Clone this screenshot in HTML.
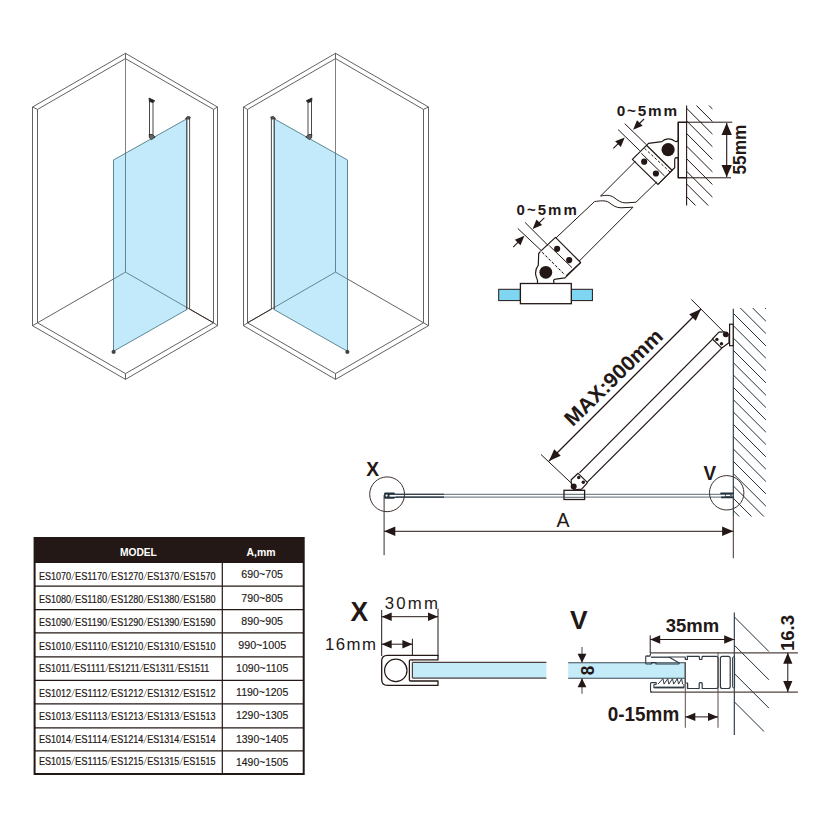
<!DOCTYPE html>
<html><head><meta charset="utf-8"><style>
html,body{margin:0;padding:0;background:#fff;}
svg{display:block;}
text{font-family:"Liberation Sans",sans-serif;}
</style></head><body>
<svg width="830" height="830" viewBox="0 0 830 830">
<rect width="830" height="830" fill="#fff"/>
<polygon points="32.50,325.70 32.50,107.00 125.50,53.30 217.50,107.00 217.50,325.70 125.50,379.40" fill="none" stroke="#505050" stroke-width="0.9" stroke-linejoin="round" />
<polygon points="37.50,322.79 37.50,109.41 125.50,58.60 213.50,109.41 213.50,322.79 125.50,373.60" fill="none" stroke="#505050" stroke-width="0.9" stroke-linejoin="round" />
<line x1="32.50" y1="107.00" x2="37.50" y2="109.41" stroke="#505050" stroke-width="0.9" />
<line x1="217.50" y1="107.00" x2="213.50" y2="109.41" stroke="#505050" stroke-width="0.9" />
<line x1="32.50" y1="325.70" x2="37.50" y2="322.79" stroke="#505050" stroke-width="0.9" />
<line x1="217.50" y1="325.70" x2="213.50" y2="322.79" stroke="#505050" stroke-width="0.9" />
<line x1="125.50" y1="53.30" x2="125.50" y2="58.60" stroke="#505050" stroke-width="0.9" />
<line x1="125.50" y1="379.40" x2="125.50" y2="373.60" stroke="#505050" stroke-width="0.9" />
<line x1="125.50" y1="58.60" x2="125.50" y2="272.10" stroke="#606060" stroke-width="0.8" />
<line x1="37.50" y1="322.79" x2="125.50" y2="272.10" stroke="#505050" stroke-width="0.9" />
<line x1="125.50" y1="272.10" x2="213.50" y2="322.79" stroke="#505050" stroke-width="0.9" />
<polygon points="113.50,160.00 186.80,118.80 186.80,309.60 113.50,351.30" fill="#c3eafa" stroke="#4e7a87" stroke-width="0.9" stroke-linejoin="round" />
<line x1="125.50" y1="153.07" x2="125.50" y2="272.10" stroke="#4d6b75" stroke-width="0.8" />
<line x1="113.50" y1="279.03" x2="125.50" y2="272.10" stroke="#4d6b75" stroke-width="0.8" />
<line x1="125.50" y1="272.10" x2="186.80" y2="307.49" stroke="#4d6b75" stroke-width="0.8" />
<line x1="189.60" y1="117.60" x2="189.60" y2="309.11" stroke="#3a3a3a" stroke-width="0.9" />
<line x1="186.80" y1="117.60" x2="186.80" y2="309.60" stroke="#3a3a3a" stroke-width="0.9" />
<polygon points="185.40,118.50 187.60,116.20 190.40,117.00 189.40,119.30" fill="#555" stroke="#222" stroke-width="0.6" stroke-linejoin="round" />
<line x1="189.60" y1="309.11" x2="213.50" y2="322.79" stroke="#3a2a24" stroke-width="1.0" />
<line x1="149.50" y1="100.80" x2="149.50" y2="136.30" stroke="#333" stroke-width="0.9" />
<line x1="153.00" y1="101.80" x2="153.00" y2="135.30" stroke="#333" stroke-width="0.9" />
<polygon points="149.00,98.00 154.80,100.80 152.90,102.50 149.40,101.50" fill="#222" stroke="#222" stroke-width="0.8" stroke-linejoin="round" />
<polygon points="149.20,134.30 152.50,134.60 155.20,137.00 151.50,139.60 149.40,137.80" fill="#666" stroke="#222" stroke-width="0.8" stroke-linejoin="round" />
<circle cx="113.60" cy="351.90" r="1.70" fill="#444" stroke="#222" stroke-width="0.6"/>
<polygon points="428.50,325.70 428.50,107.00 335.50,53.30 243.50,107.00 243.50,325.70 335.50,379.40" fill="none" stroke="#505050" stroke-width="0.9" stroke-linejoin="round" />
<polygon points="423.50,322.79 423.50,109.41 335.50,58.60 247.50,109.41 247.50,322.79 335.50,373.60" fill="none" stroke="#505050" stroke-width="0.9" stroke-linejoin="round" />
<line x1="428.50" y1="107.00" x2="423.50" y2="109.41" stroke="#505050" stroke-width="0.9" />
<line x1="243.50" y1="107.00" x2="247.50" y2="109.41" stroke="#505050" stroke-width="0.9" />
<line x1="428.50" y1="325.70" x2="423.50" y2="322.79" stroke="#505050" stroke-width="0.9" />
<line x1="243.50" y1="325.70" x2="247.50" y2="322.79" stroke="#505050" stroke-width="0.9" />
<line x1="335.50" y1="53.30" x2="335.50" y2="58.60" stroke="#505050" stroke-width="0.9" />
<line x1="335.50" y1="379.40" x2="335.50" y2="373.60" stroke="#505050" stroke-width="0.9" />
<line x1="335.50" y1="58.60" x2="335.50" y2="272.10" stroke="#606060" stroke-width="0.8" />
<line x1="423.50" y1="322.79" x2="335.50" y2="272.10" stroke="#505050" stroke-width="0.9" />
<line x1="335.50" y1="272.10" x2="247.50" y2="322.79" stroke="#505050" stroke-width="0.9" />
<polygon points="347.50,160.00 274.20,118.80 274.20,309.60 347.50,351.30" fill="#c3eafa" stroke="#4e7a87" stroke-width="0.9" stroke-linejoin="round" />
<line x1="335.50" y1="153.07" x2="335.50" y2="272.10" stroke="#4d6b75" stroke-width="0.8" />
<line x1="347.50" y1="279.03" x2="335.50" y2="272.10" stroke="#4d6b75" stroke-width="0.8" />
<line x1="335.50" y1="272.10" x2="274.20" y2="307.49" stroke="#4d6b75" stroke-width="0.8" />
<line x1="271.40" y1="117.60" x2="271.40" y2="309.11" stroke="#3a3a3a" stroke-width="0.9" />
<line x1="274.20" y1="117.60" x2="274.20" y2="309.60" stroke="#3a3a3a" stroke-width="0.9" />
<polygon points="275.60,118.50 273.40,116.20 270.60,117.00 271.60,119.30" fill="#555" stroke="#222" stroke-width="0.6" stroke-linejoin="round" />
<line x1="271.40" y1="309.11" x2="247.50" y2="322.79" stroke="#3a2a24" stroke-width="1.0" />
<line x1="311.50" y1="100.80" x2="311.50" y2="136.30" stroke="#333" stroke-width="0.9" />
<line x1="308.00" y1="101.80" x2="308.00" y2="135.30" stroke="#333" stroke-width="0.9" />
<polygon points="312.00,98.00 306.20,100.80 308.10,102.50 311.60,101.50" fill="#222" stroke="#222" stroke-width="0.8" stroke-linejoin="round" />
<polygon points="311.80,134.30 308.50,134.60 305.80,137.00 309.50,139.60 311.60,137.80" fill="#666" stroke="#222" stroke-width="0.8" stroke-linejoin="round" />
<circle cx="347.40" cy="351.90" r="1.70" fill="#444" stroke="#222" stroke-width="0.6"/>
<clipPath id="hc1"><rect x="686.6" y="105.6" width="25.8" height="100"/></clipPath>
<g clip-path="url(#hc1)">
<line x1="686.60" y1="70.50" x2="726.60" y2="110.50" stroke="#231815" stroke-width="1.0" />
<line x1="686.60" y1="83.10" x2="726.60" y2="123.10" stroke="#231815" stroke-width="1.0" />
<line x1="686.60" y1="95.70" x2="726.60" y2="135.70" stroke="#231815" stroke-width="1.0" />
<line x1="686.60" y1="108.30" x2="726.60" y2="148.30" stroke="#231815" stroke-width="1.0" />
<line x1="686.60" y1="120.90" x2="726.60" y2="160.90" stroke="#231815" stroke-width="1.0" />
<line x1="686.60" y1="133.50" x2="726.60" y2="173.50" stroke="#231815" stroke-width="1.0" />
<line x1="686.60" y1="146.10" x2="726.60" y2="186.10" stroke="#231815" stroke-width="1.0" />
<line x1="686.60" y1="158.70" x2="726.60" y2="198.70" stroke="#231815" stroke-width="1.0" />
<line x1="686.60" y1="171.30" x2="726.60" y2="211.30" stroke="#231815" stroke-width="1.0" />
<line x1="686.60" y1="183.90" x2="726.60" y2="223.90" stroke="#231815" stroke-width="1.0" />
<line x1="686.60" y1="196.50" x2="726.60" y2="236.50" stroke="#231815" stroke-width="1.0" />
<line x1="686.60" y1="209.10" x2="726.60" y2="249.10" stroke="#231815" stroke-width="1.0" />
<line x1="686.60" y1="221.70" x2="726.60" y2="261.70" stroke="#231815" stroke-width="1.0" />
</g>
<polyline points="686.60,122.20 678.20,122.20 678.20,177.80 686.60,177.80" fill="#fff" stroke="#231815" stroke-width="1.6" stroke-linejoin="round" />
<line x1="686.60" y1="105.60" x2="686.60" y2="205.60" stroke="#231815" stroke-width="1.1" />
<line x1="686.60" y1="122.20" x2="732.30" y2="122.20" stroke="#231815" stroke-width="1.0" />
<line x1="686.60" y1="177.80" x2="731.00" y2="177.80" stroke="#231815" stroke-width="1.0" />
<line x1="726.70" y1="123.00" x2="726.70" y2="177.00" stroke="#231815" stroke-width="1.1" />
<polygon points="726.70,123.00 731.90,135.00 721.50,135.00" fill="#231815" stroke="none" stroke-width="1.0" stroke-linejoin="round" />
<polygon points="726.70,177.00 721.50,165.00 731.90,165.00" fill="#231815" stroke="none" stroke-width="1.0" stroke-linejoin="round" />
<text x="746.2" y="149.6" font-size="17.5" font-weight="bold" fill="#231815" text-anchor="middle" textLength="49.7" lengthAdjust="spacingAndGlyphs" transform="rotate(-90 746.2 149.6)" >55mm</text>
<path d="M646.5,145.3 L648.5,143.3 L661.8,141.7 C664,139.3 667.5,138.6 670.5,139.1 C673.5,139.7 675,141.9 676.6,141.6 L678.2,140.4 L678.2,157.8 L675.6,157.6 C674.9,158.2 674.7,159.2 674.7,160.2 L674.7,167.8 L672,170.3 L657.9,184.4" fill="#fff" stroke="#231815" stroke-width="1.2" stroke-linejoin="round"/>
<polygon points="632.40,159.40 646.50,145.30 672.00,170.30 657.90,184.40" fill="#fff" stroke="#231815" stroke-width="1.2" stroke-linejoin="round" />
<line x1="641.40" y1="153.30" x2="664.60" y2="176.00" stroke="#231815" stroke-width="1.0" />
<line x1="644.60" y1="148.40" x2="670.00" y2="172.00" stroke="#231815" stroke-width="1.0" stroke-dasharray="2.6,2"/>
<circle cx="668.10" cy="149.60" r="6.60" fill="#231815" stroke="none" stroke-width="1.0"/>
<circle cx="644.20" cy="161.70" r="3.10" fill="#231815" stroke="none" stroke-width="1.0"/>
<circle cx="655.90" cy="173.50" r="3.10" fill="#231815" stroke="none" stroke-width="1.0"/>
<line x1="635.40" y1="161.20" x2="600.50" y2="196.10" stroke="#231815" stroke-width="1.0" />
<line x1="657.10" y1="181.70" x2="636.00" y2="202.20" stroke="#231815" stroke-width="1.0" />
<path d="M600.5,196.1 C606,195 610,194.8 614,197.5 C618,200.5 621,203 626,202.9 L636,202.2" fill="none" stroke="#231815" stroke-width="1.0"/>
<line x1="594.50" y1="201.60" x2="556.10" y2="237.80" stroke="#231815" stroke-width="1.0" />
<line x1="633.00" y1="207.20" x2="579.30" y2="261.00" stroke="#231815" stroke-width="1.0" />
<path d="M594.5,201.6 C600,200.8 605,200 609,202.5 C613,205.5 616,207.8 621,207.8 L633,207.2" fill="none" stroke="#231815" stroke-width="1.0"/>
<path d="M540.7,251.1 L538.7,253.5 L538.3,265.2 C536.2,268 535.4,271 535.6,274 C535.9,277 537.2,279 537.5,280.5 L537.5,283.5 M554,283.5 L553.6,280.6 C553.8,279.6 554.6,279.2 555.6,279.1 L565,277.8 L580.6,262.5" fill="none" stroke="#231815" stroke-width="1.2" stroke-linejoin="round"/>
<polygon points="540.70,251.10 555.50,237.40 580.60,262.50 565.80,276.20" fill="#fff" stroke="#231815" stroke-width="1.2" stroke-linejoin="round" stroke-dasharray="none"/>
<line x1="540.70" y1="251.10" x2="565.80" y2="276.20" stroke="#fff" stroke-width="1.6" />
<line x1="542.20" y1="252.30" x2="564.60" y2="274.60" stroke="#231815" stroke-width="1.0" stroke-dasharray="2.6,2"/>
<line x1="549.30" y1="245.70" x2="572.00" y2="267.60" stroke="#231815" stroke-width="1.0" />
<circle cx="545.80" cy="272.30" r="6.40" fill="#231815" stroke="none" stroke-width="1.0"/>
<circle cx="557.10" cy="248.80" r="3.10" fill="#231815" stroke="none" stroke-width="1.0"/>
<circle cx="569.20" cy="260.10" r="3.10" fill="#231815" stroke="none" stroke-width="1.0"/>
<rect x="498.7" y="289.3" width="21.7" height="11.3" fill="#7fd6f3" stroke="#231815" stroke-width="1.0"/>
<rect x="571.3" y="289.3" width="21.1" height="11.3" fill="#7fd6f3" stroke="#231815" stroke-width="1.0"/>
<rect x="520.4" y="283.5" width="50.9" height="20.2" fill="#fff" stroke="#231815" stroke-width="1.3"/>
<line x1="618.10" y1="129.60" x2="639.80" y2="150.70" stroke="#231815" stroke-width="1.0" />
<line x1="624.70" y1="123.60" x2="646.40" y2="144.70" stroke="#231815" stroke-width="1.0" />
<line x1="613.30" y1="148.30" x2="622.00" y2="140.00" stroke="#231815" stroke-width="1.1" />
<polygon points="624.70,137.40 620.81,146.95 615.15,141.29" fill="#231815" stroke="none" stroke-width="1.0" stroke-linejoin="round" />
<line x1="644.00" y1="119.00" x2="635.50" y2="127.30" stroke="#231815" stroke-width="1.1" />
<polygon points="633.10,129.70 636.99,120.15 642.65,125.81" fill="#231815" stroke="none" stroke-width="1.0" stroke-linejoin="round" />
<text x="616.8" y="116.4" font-size="15.3" font-weight="bold" fill="#231815" text-anchor="start" textLength="60.2" lengthAdjust="spacing" >0~5mm</text>
<line x1="517.80" y1="228.50" x2="541.70" y2="251.00" stroke="#231815" stroke-width="1.0" />
<line x1="525.10" y1="222.50" x2="548.30" y2="245.70" stroke="#231815" stroke-width="1.0" />
<line x1="513.20" y1="247.10" x2="522.00" y2="238.30" stroke="#231815" stroke-width="1.1" />
<polygon points="524.40,235.80 520.51,245.35 514.85,239.69" fill="#231815" stroke="none" stroke-width="1.0" stroke-linejoin="round" />
<line x1="544.30" y1="217.90" x2="535.00" y2="226.80" stroke="#231815" stroke-width="1.1" />
<polygon points="532.60,229.00 536.49,219.45 542.15,225.11" fill="#231815" stroke="none" stroke-width="1.0" stroke-linejoin="round" />
<text x="516.5" y="215.0" font-size="15.0" font-weight="bold" fill="#231815" text-anchor="start" textLength="60.3" lengthAdjust="spacing" >0~5mm</text>
<clipPath id="hc2"><rect x="733.2" y="308" width="32.7" height="208.6"/></clipPath>
<g clip-path="url(#hc2)">
<line x1="733.20" y1="263.88" x2="773.20" y2="303.88" stroke="#22313c" stroke-width="1.0" />
<line x1="733.20" y1="276.21" x2="773.20" y2="316.21" stroke="#22313c" stroke-width="1.0" />
<line x1="733.20" y1="288.54" x2="773.20" y2="328.54" stroke="#22313c" stroke-width="1.0" />
<line x1="733.20" y1="300.87" x2="773.20" y2="340.87" stroke="#22313c" stroke-width="1.0" />
<line x1="733.20" y1="313.20" x2="773.20" y2="353.20" stroke="#22313c" stroke-width="1.0" />
<line x1="733.20" y1="325.53" x2="773.20" y2="365.53" stroke="#22313c" stroke-width="1.0" />
<line x1="733.20" y1="337.86" x2="773.20" y2="377.86" stroke="#22313c" stroke-width="1.0" />
<line x1="733.20" y1="350.19" x2="773.20" y2="390.19" stroke="#22313c" stroke-width="1.0" />
<line x1="733.20" y1="362.52" x2="773.20" y2="402.52" stroke="#22313c" stroke-width="1.0" />
<line x1="733.20" y1="374.85" x2="773.20" y2="414.85" stroke="#22313c" stroke-width="1.0" />
<line x1="733.20" y1="387.18" x2="773.20" y2="427.18" stroke="#22313c" stroke-width="1.0" />
<line x1="733.20" y1="399.51" x2="773.20" y2="439.51" stroke="#22313c" stroke-width="1.0" />
<line x1="733.20" y1="411.84" x2="773.20" y2="451.84" stroke="#22313c" stroke-width="1.0" />
<line x1="733.20" y1="424.17" x2="773.20" y2="464.17" stroke="#22313c" stroke-width="1.0" />
<line x1="733.20" y1="436.50" x2="773.20" y2="476.50" stroke="#22313c" stroke-width="1.0" />
<line x1="733.20" y1="448.83" x2="773.20" y2="488.83" stroke="#22313c" stroke-width="1.0" />
<line x1="733.20" y1="461.16" x2="773.20" y2="501.16" stroke="#22313c" stroke-width="1.0" />
<line x1="733.20" y1="473.49" x2="773.20" y2="513.49" stroke="#22313c" stroke-width="1.0" />
<line x1="733.20" y1="485.82" x2="773.20" y2="525.82" stroke="#22313c" stroke-width="1.0" />
<line x1="733.20" y1="498.15" x2="773.20" y2="538.15" stroke="#22313c" stroke-width="1.0" />
<line x1="733.20" y1="510.48" x2="773.20" y2="550.48" stroke="#22313c" stroke-width="1.0" />
<line x1="733.20" y1="522.81" x2="773.20" y2="562.81" stroke="#22313c" stroke-width="1.0" />
<line x1="733.20" y1="535.14" x2="773.20" y2="575.14" stroke="#22313c" stroke-width="1.0" />
<line x1="733.20" y1="547.47" x2="773.20" y2="587.47" stroke="#22313c" stroke-width="1.0" />
</g>
<line x1="733.30" y1="308.70" x2="733.30" y2="516.00" stroke="#22313c" stroke-width="1.1" />
<line x1="733.30" y1="516.00" x2="733.30" y2="558.20" stroke="#3d2f2c" stroke-width="1.0" />
<line x1="384.50" y1="494.30" x2="725.20" y2="494.30" stroke="#4a5a66" stroke-width="0.9" />
<line x1="384.50" y1="497.10" x2="725.20" y2="497.10" stroke="#4a5a66" stroke-width="0.9" />
<line x1="393.90" y1="494.30" x2="444.00" y2="494.30" stroke="#1f2d3a" stroke-width="1.1" />
<line x1="393.90" y1="497.10" x2="444.00" y2="497.10" stroke="#1f2d3a" stroke-width="1.1" />
<rect x="384.1" y="492.5" width="10.8" height="6.3" rx="1.2" fill="#22313c"/>
<rect x="389.5" y="494.9" width="6" height="1.8" fill="#fff"/>
<circle cx="386.60" cy="495.60" r="1.10" fill="#fff" stroke="none" stroke-width="1.0"/>
<line x1="721.00" y1="493.40" x2="733.20" y2="493.40" stroke="#22313c" stroke-width="1.7" stroke-linecap="round"/>
<line x1="721.80" y1="497.40" x2="733.20" y2="497.40" stroke="#22313c" stroke-width="1.7" stroke-linecap="round"/>
<rect x="725.6" y="494.2" width="5" height="2.4" fill="none" stroke="#22313c" stroke-width="0.7"/>
<line x1="731.80" y1="493.80" x2="731.80" y2="497.00" stroke="#22313c" stroke-width="0.9" />
<circle cx="387.10" cy="494.30" r="17.40" fill="none" stroke="#3d2f2c" stroke-width="1.0"/>
<circle cx="726.70" cy="492.80" r="17.20" fill="none" stroke="#3d2f2c" stroke-width="1.0"/>
<text x="366.2" y="475.7" font-size="19.5" font-weight="bold" fill="#231815" text-anchor="start" textLength="12.8" lengthAdjust="spacingAndGlyphs" >X</text>
<text x="703.6" y="479.9" font-size="19.5" font-weight="bold" fill="#231815" text-anchor="start" textLength="12.6" lengthAdjust="spacingAndGlyphs" >V</text>
<line x1="384.10" y1="495.00" x2="384.10" y2="555.20" stroke="#3d2f2c" stroke-width="1.0" />
<line x1="384.10" y1="531.30" x2="733.30" y2="531.30" stroke="#231815" stroke-width="1.0" />
<polygon points="384.10,531.30 395.30,526.50 395.30,536.10" fill="#231815" stroke="none" stroke-width="1.0" stroke-linejoin="round" />
<polygon points="733.30,531.30 722.10,536.10 722.10,526.50" fill="#231815" stroke="none" stroke-width="1.0" stroke-linejoin="round" />
<text x="562.9" y="526.6" font-size="19.5" font-weight="normal" fill="#231815" text-anchor="middle" >A</text>
<line x1="579.50" y1="472.90" x2="712.40" y2="339.40" stroke="#231815" stroke-width="1.3" />
<line x1="587.50" y1="481.90" x2="721.80" y2="348.10" stroke="#231815" stroke-width="1.3" />
<polygon points="571.20,479.80 578.10,473.30 587.50,482.70 581.70,489.20 573.70,489.90 571.20,483.00" fill="#fff" stroke="#231815" stroke-width="1.2" stroke-linejoin="round" />
<circle cx="578.70" cy="477.50" r="1.70" fill="#231815" stroke="none" stroke-width="1.0"/>
<circle cx="583.30" cy="482.20" r="1.70" fill="#231815" stroke="none" stroke-width="1.0"/>
<circle cx="573.70" cy="486.60" r="3.00" fill="#231815" stroke="none" stroke-width="1.0"/>
<rect x="564" y="490.3" width="20.6" height="9.2" fill="#fff" stroke="#231815" stroke-width="1.3"/>
<line x1="564.50" y1="494.30" x2="584.20" y2="494.30" stroke="#3b4a55" stroke-width="0.9" />
<line x1="564.50" y1="497.30" x2="584.20" y2="497.30" stroke="#3b4a55" stroke-width="0.9" />
<rect x="729.6" y="324.2" width="3.6" height="21.5" fill="#fff" stroke="#231815" stroke-width="1.2"/>
<polygon points="712.40,339.00 718.90,332.20 724.00,331.80 729.00,335.00 729.00,342.70 721.80,348.10" fill="#fff" stroke="#231815" stroke-width="1.2" stroke-linejoin="round" />
<circle cx="725.80" cy="334.30" r="2.90" fill="#231815" stroke="none" stroke-width="1.0"/>
<circle cx="716.90" cy="339.40" r="1.70" fill="#231815" stroke="none" stroke-width="1.0"/>
<circle cx="721.50" cy="343.70" r="1.70" fill="#231815" stroke="none" stroke-width="1.0"/>
<line x1="541.00" y1="454.50" x2="571.60" y2="483.40" stroke="#231815" stroke-width="1.0" />
<line x1="691.30" y1="299.40" x2="723.60" y2="331.80" stroke="#231815" stroke-width="1.0" />
<line x1="549.00" y1="461.00" x2="701.00" y2="309.00" stroke="#231815" stroke-width="1.2" />
<polygon points="549.00,461.00 554.23,449.26 560.74,455.77" fill="#231815" stroke="none" stroke-width="1.0" stroke-linejoin="round" />
<polygon points="701.00,309.00 695.77,320.74 689.26,314.23" fill="#231815" stroke="none" stroke-width="1.0" stroke-linejoin="round" />
<text x="0" y="0" font-size="21" font-weight="bold" fill="#231815" text-anchor="middle" textLength="128" lengthAdjust="spacingAndGlyphs" transform="translate(618.5,382.5) rotate(-44.5)">MAX:900mm</text>
<rect x="34.6" y="538.0" width="269.1" height="236.0" fill="#fff" stroke="#231815" stroke-width="2"/>
<rect x="34.6" y="538.0" width="269.1" height="25.0" fill="#231815"/>
<line x1="222.30" y1="562.00" x2="222.30" y2="774.00" stroke="#231815" stroke-width="1.2" />
<line x1="34.60" y1="586.20" x2="303.70" y2="586.20" stroke="#231815" stroke-width="1.2" />
<line x1="34.60" y1="609.60" x2="303.70" y2="609.60" stroke="#231815" stroke-width="1.2" />
<line x1="34.60" y1="632.90" x2="303.70" y2="632.90" stroke="#231815" stroke-width="1.2" />
<line x1="34.60" y1="656.80" x2="303.70" y2="656.80" stroke="#231815" stroke-width="1.2" />
<line x1="34.60" y1="680.30" x2="303.70" y2="680.30" stroke="#231815" stroke-width="1.2" />
<line x1="34.60" y1="703.90" x2="303.70" y2="703.90" stroke="#231815" stroke-width="1.2" />
<line x1="34.60" y1="727.80" x2="303.70" y2="727.80" stroke="#231815" stroke-width="1.2" />
<line x1="34.60" y1="750.90" x2="303.70" y2="750.90" stroke="#231815" stroke-width="1.2" />
<text x="138.4" y="556.2" font-size="11" font-weight="bold" fill="#fff" text-anchor="middle" textLength="37" lengthAdjust="spacingAndGlyphs" >MODEL</text>
<text x="261.0" y="556.2" font-size="11" font-weight="bold" fill="#fff" text-anchor="middle" textLength="29" lengthAdjust="spacingAndGlyphs" >A,mm</text>
<text x="38.9" y="579.9" font-size="10.6" font-weight="normal" fill="#231815" text-anchor="start" textLength="32.2" lengthAdjust="spacingAndGlyphs" stroke="#231815" stroke-width="0.2">ES1070</text>
<line x1="71.40" y1="580.20" x2="74.80" y2="571.70" stroke="#6a6a6a" stroke-width="0.7" />
<text x="75.0" y="579.9" font-size="10.6" font-weight="normal" fill="#231815" text-anchor="start" textLength="32.2" lengthAdjust="spacingAndGlyphs" stroke="#231815" stroke-width="0.2">ES1170</text>
<line x1="107.50" y1="580.20" x2="110.90" y2="571.70" stroke="#6a6a6a" stroke-width="0.7" />
<text x="111.1" y="579.9" font-size="10.6" font-weight="normal" fill="#231815" text-anchor="start" textLength="32.2" lengthAdjust="spacingAndGlyphs" stroke="#231815" stroke-width="0.2">ES1270</text>
<line x1="143.60" y1="580.20" x2="147.00" y2="571.70" stroke="#6a6a6a" stroke-width="0.7" />
<text x="147.2" y="579.9" font-size="10.6" font-weight="normal" fill="#231815" text-anchor="start" textLength="32.2" lengthAdjust="spacingAndGlyphs" stroke="#231815" stroke-width="0.2">ES1370</text>
<line x1="179.70" y1="580.20" x2="183.10" y2="571.70" stroke="#6a6a6a" stroke-width="0.7" />
<text x="183.3" y="579.9" font-size="10.6" font-weight="normal" fill="#231815" text-anchor="start" textLength="32.2" lengthAdjust="spacingAndGlyphs" stroke="#231815" stroke-width="0.2">ES1570</text>
<text x="262.2" y="577.6" font-size="11.2" font-weight="normal" fill="#231815" text-anchor="middle" textLength="41.7" lengthAdjust="spacingAndGlyphs" stroke="#231815" stroke-width="0.15">690~705</text>
<text x="38.9" y="603.4" font-size="10.6" font-weight="normal" fill="#231815" text-anchor="start" textLength="32.2" lengthAdjust="spacingAndGlyphs" stroke="#231815" stroke-width="0.2">ES1080</text>
<line x1="71.40" y1="603.70" x2="74.80" y2="595.20" stroke="#6a6a6a" stroke-width="0.7" />
<text x="75.0" y="603.4" font-size="10.6" font-weight="normal" fill="#231815" text-anchor="start" textLength="32.2" lengthAdjust="spacingAndGlyphs" stroke="#231815" stroke-width="0.2">ES1180</text>
<line x1="107.50" y1="603.70" x2="110.90" y2="595.20" stroke="#6a6a6a" stroke-width="0.7" />
<text x="111.1" y="603.4" font-size="10.6" font-weight="normal" fill="#231815" text-anchor="start" textLength="32.2" lengthAdjust="spacingAndGlyphs" stroke="#231815" stroke-width="0.2">ES1280</text>
<line x1="143.60" y1="603.70" x2="147.00" y2="595.20" stroke="#6a6a6a" stroke-width="0.7" />
<text x="147.2" y="603.4" font-size="10.6" font-weight="normal" fill="#231815" text-anchor="start" textLength="32.2" lengthAdjust="spacingAndGlyphs" stroke="#231815" stroke-width="0.2">ES1380</text>
<line x1="179.70" y1="603.70" x2="183.10" y2="595.20" stroke="#6a6a6a" stroke-width="0.7" />
<text x="183.3" y="603.4" font-size="10.6" font-weight="normal" fill="#231815" text-anchor="start" textLength="32.2" lengthAdjust="spacingAndGlyphs" stroke="#231815" stroke-width="0.2">ES1580</text>
<text x="262.2" y="601.6" font-size="11.2" font-weight="normal" fill="#231815" text-anchor="middle" textLength="41.7" lengthAdjust="spacingAndGlyphs" stroke="#231815" stroke-width="0.15">790~805</text>
<text x="38.9" y="625.8" font-size="10.6" font-weight="normal" fill="#231815" text-anchor="start" textLength="32.2" lengthAdjust="spacingAndGlyphs" stroke="#231815" stroke-width="0.2">ES1090</text>
<line x1="71.40" y1="626.10" x2="74.80" y2="617.60" stroke="#6a6a6a" stroke-width="0.7" />
<text x="75.0" y="625.8" font-size="10.6" font-weight="normal" fill="#231815" text-anchor="start" textLength="32.2" lengthAdjust="spacingAndGlyphs" stroke="#231815" stroke-width="0.2">ES1190</text>
<line x1="107.50" y1="626.10" x2="110.90" y2="617.60" stroke="#6a6a6a" stroke-width="0.7" />
<text x="111.1" y="625.8" font-size="10.6" font-weight="normal" fill="#231815" text-anchor="start" textLength="32.2" lengthAdjust="spacingAndGlyphs" stroke="#231815" stroke-width="0.2">ES1290</text>
<line x1="143.60" y1="626.10" x2="147.00" y2="617.60" stroke="#6a6a6a" stroke-width="0.7" />
<text x="147.2" y="625.8" font-size="10.6" font-weight="normal" fill="#231815" text-anchor="start" textLength="32.2" lengthAdjust="spacingAndGlyphs" stroke="#231815" stroke-width="0.2">ES1390</text>
<line x1="179.70" y1="626.10" x2="183.10" y2="617.60" stroke="#6a6a6a" stroke-width="0.7" />
<text x="183.3" y="625.8" font-size="10.6" font-weight="normal" fill="#231815" text-anchor="start" textLength="32.2" lengthAdjust="spacingAndGlyphs" stroke="#231815" stroke-width="0.2">ES1590</text>
<text x="262.2" y="624.7" font-size="11.2" font-weight="normal" fill="#231815" text-anchor="middle" textLength="41.7" lengthAdjust="spacingAndGlyphs" stroke="#231815" stroke-width="0.15">890~905</text>
<text x="38.9" y="650.3" font-size="10.6" font-weight="normal" fill="#231815" text-anchor="start" textLength="32.2" lengthAdjust="spacingAndGlyphs" stroke="#231815" stroke-width="0.2">ES1010</text>
<line x1="71.40" y1="650.60" x2="74.80" y2="642.10" stroke="#6a6a6a" stroke-width="0.7" />
<text x="75.0" y="650.3" font-size="10.6" font-weight="normal" fill="#231815" text-anchor="start" textLength="32.2" lengthAdjust="spacingAndGlyphs" stroke="#231815" stroke-width="0.2">ES1110</text>
<line x1="107.50" y1="650.60" x2="110.90" y2="642.10" stroke="#6a6a6a" stroke-width="0.7" />
<text x="111.1" y="650.3" font-size="10.6" font-weight="normal" fill="#231815" text-anchor="start" textLength="32.2" lengthAdjust="spacingAndGlyphs" stroke="#231815" stroke-width="0.2">ES1210</text>
<line x1="143.60" y1="650.60" x2="147.00" y2="642.10" stroke="#6a6a6a" stroke-width="0.7" />
<text x="147.2" y="650.3" font-size="10.6" font-weight="normal" fill="#231815" text-anchor="start" textLength="32.2" lengthAdjust="spacingAndGlyphs" stroke="#231815" stroke-width="0.2">ES1310</text>
<line x1="179.70" y1="650.60" x2="183.10" y2="642.10" stroke="#6a6a6a" stroke-width="0.7" />
<text x="183.3" y="650.3" font-size="10.6" font-weight="normal" fill="#231815" text-anchor="start" textLength="32.2" lengthAdjust="spacingAndGlyphs" stroke="#231815" stroke-width="0.2">ES1510</text>
<text x="262.2" y="648.5" font-size="11.2" font-weight="normal" fill="#231815" text-anchor="middle" textLength="47.9" lengthAdjust="spacingAndGlyphs" stroke="#231815" stroke-width="0.15">990~1005</text>
<text x="38.9" y="671.7" font-size="10.6" font-weight="normal" fill="#231815" text-anchor="start" textLength="31.5" lengthAdjust="spacingAndGlyphs" stroke="#231815" stroke-width="0.2">ES1011</text>
<line x1="70.70" y1="672.00" x2="74.10" y2="663.50" stroke="#6a6a6a" stroke-width="0.7" />
<text x="73.65" y="671.7" font-size="10.6" font-weight="normal" fill="#231815" text-anchor="start" textLength="31.5" lengthAdjust="spacingAndGlyphs" stroke="#231815" stroke-width="0.2">ES1111</text>
<line x1="105.45" y1="672.00" x2="108.85" y2="663.50" stroke="#6a6a6a" stroke-width="0.7" />
<text x="108.4" y="671.7" font-size="10.6" font-weight="normal" fill="#231815" text-anchor="start" textLength="31.5" lengthAdjust="spacingAndGlyphs" stroke="#231815" stroke-width="0.2">ES1211</text>
<line x1="140.20" y1="672.00" x2="143.60" y2="663.50" stroke="#6a6a6a" stroke-width="0.7" />
<text x="143.15" y="671.7" font-size="10.6" font-weight="normal" fill="#231815" text-anchor="start" textLength="31.5" lengthAdjust="spacingAndGlyphs" stroke="#231815" stroke-width="0.2">ES1311</text>
<line x1="174.95" y1="672.00" x2="178.35" y2="663.50" stroke="#6a6a6a" stroke-width="0.7" />
<text x="177.9" y="671.7" font-size="10.6" font-weight="normal" fill="#231815" text-anchor="start" textLength="31.5" lengthAdjust="spacingAndGlyphs" stroke="#231815" stroke-width="0.2">ES1511</text>
<text x="262.2" y="671.7" font-size="11.2" font-weight="normal" fill="#231815" text-anchor="middle" textLength="52.3" lengthAdjust="spacingAndGlyphs" stroke="#231815" stroke-width="0.15">1090~1105</text>
<text x="38.9" y="697.0" font-size="10.6" font-weight="normal" fill="#231815" text-anchor="start" textLength="32.2" lengthAdjust="spacingAndGlyphs" stroke="#231815" stroke-width="0.2">ES1012</text>
<line x1="71.40" y1="697.30" x2="74.80" y2="688.80" stroke="#6a6a6a" stroke-width="0.7" />
<text x="75.0" y="697.0" font-size="10.6" font-weight="normal" fill="#231815" text-anchor="start" textLength="32.2" lengthAdjust="spacingAndGlyphs" stroke="#231815" stroke-width="0.2">ES1112</text>
<line x1="107.50" y1="697.30" x2="110.90" y2="688.80" stroke="#6a6a6a" stroke-width="0.7" />
<text x="111.1" y="697.0" font-size="10.6" font-weight="normal" fill="#231815" text-anchor="start" textLength="32.2" lengthAdjust="spacingAndGlyphs" stroke="#231815" stroke-width="0.2">ES1212</text>
<line x1="143.60" y1="697.30" x2="147.00" y2="688.80" stroke="#6a6a6a" stroke-width="0.7" />
<text x="147.2" y="697.0" font-size="10.6" font-weight="normal" fill="#231815" text-anchor="start" textLength="32.2" lengthAdjust="spacingAndGlyphs" stroke="#231815" stroke-width="0.2">ES1312</text>
<line x1="179.70" y1="697.30" x2="183.10" y2="688.80" stroke="#6a6a6a" stroke-width="0.7" />
<text x="183.3" y="697.0" font-size="10.6" font-weight="normal" fill="#231815" text-anchor="start" textLength="32.2" lengthAdjust="spacingAndGlyphs" stroke="#231815" stroke-width="0.2">ES1512</text>
<text x="262.2" y="695.5" font-size="11.2" font-weight="normal" fill="#231815" text-anchor="middle" textLength="52.3" lengthAdjust="spacingAndGlyphs" stroke="#231815" stroke-width="0.15">1190~1205</text>
<text x="38.9" y="719.7" font-size="10.6" font-weight="normal" fill="#231815" text-anchor="start" textLength="32.2" lengthAdjust="spacingAndGlyphs" stroke="#231815" stroke-width="0.2">ES1013</text>
<line x1="71.40" y1="720.00" x2="74.80" y2="711.50" stroke="#6a6a6a" stroke-width="0.7" />
<text x="75.0" y="719.7" font-size="10.6" font-weight="normal" fill="#231815" text-anchor="start" textLength="32.2" lengthAdjust="spacingAndGlyphs" stroke="#231815" stroke-width="0.2">ES1113</text>
<line x1="107.50" y1="720.00" x2="110.90" y2="711.50" stroke="#6a6a6a" stroke-width="0.7" />
<text x="111.1" y="719.7" font-size="10.6" font-weight="normal" fill="#231815" text-anchor="start" textLength="32.2" lengthAdjust="spacingAndGlyphs" stroke="#231815" stroke-width="0.2">ES1213</text>
<line x1="143.60" y1="720.00" x2="147.00" y2="711.50" stroke="#6a6a6a" stroke-width="0.7" />
<text x="147.2" y="719.7" font-size="10.6" font-weight="normal" fill="#231815" text-anchor="start" textLength="32.2" lengthAdjust="spacingAndGlyphs" stroke="#231815" stroke-width="0.2">ES1313</text>
<line x1="179.70" y1="720.00" x2="183.10" y2="711.50" stroke="#6a6a6a" stroke-width="0.7" />
<text x="183.3" y="719.7" font-size="10.6" font-weight="normal" fill="#231815" text-anchor="start" textLength="32.2" lengthAdjust="spacingAndGlyphs" stroke="#231815" stroke-width="0.2">ES1513</text>
<text x="262.2" y="718.7" font-size="11.2" font-weight="normal" fill="#231815" text-anchor="middle" textLength="52.3" lengthAdjust="spacingAndGlyphs" stroke="#231815" stroke-width="0.15">1290~1305</text>
<text x="38.9" y="743.2" font-size="10.6" font-weight="normal" fill="#231815" text-anchor="start" textLength="32.2" lengthAdjust="spacingAndGlyphs" stroke="#231815" stroke-width="0.2">ES1014</text>
<line x1="71.40" y1="743.50" x2="74.80" y2="735.00" stroke="#6a6a6a" stroke-width="0.7" />
<text x="75.0" y="743.2" font-size="10.6" font-weight="normal" fill="#231815" text-anchor="start" textLength="32.2" lengthAdjust="spacingAndGlyphs" stroke="#231815" stroke-width="0.2">ES1114</text>
<line x1="107.50" y1="743.50" x2="110.90" y2="735.00" stroke="#6a6a6a" stroke-width="0.7" />
<text x="111.1" y="743.2" font-size="10.6" font-weight="normal" fill="#231815" text-anchor="start" textLength="32.2" lengthAdjust="spacingAndGlyphs" stroke="#231815" stroke-width="0.2">ES1214</text>
<line x1="143.60" y1="743.50" x2="147.00" y2="735.00" stroke="#6a6a6a" stroke-width="0.7" />
<text x="147.2" y="743.2" font-size="10.6" font-weight="normal" fill="#231815" text-anchor="start" textLength="32.2" lengthAdjust="spacingAndGlyphs" stroke="#231815" stroke-width="0.2">ES1314</text>
<line x1="179.70" y1="743.50" x2="183.10" y2="735.00" stroke="#6a6a6a" stroke-width="0.7" />
<text x="183.3" y="743.2" font-size="10.6" font-weight="normal" fill="#231815" text-anchor="start" textLength="32.2" lengthAdjust="spacingAndGlyphs" stroke="#231815" stroke-width="0.2">ES1514</text>
<text x="262.2" y="743.2" font-size="11.2" font-weight="normal" fill="#231815" text-anchor="middle" textLength="52.3" lengthAdjust="spacingAndGlyphs" stroke="#231815" stroke-width="0.15">1390~1405</text>
<text x="38.9" y="764.9" font-size="10.6" font-weight="normal" fill="#231815" text-anchor="start" textLength="32.2" lengthAdjust="spacingAndGlyphs" stroke="#231815" stroke-width="0.2">ES1015</text>
<line x1="71.40" y1="765.20" x2="74.80" y2="756.70" stroke="#6a6a6a" stroke-width="0.7" />
<text x="75.0" y="764.9" font-size="10.6" font-weight="normal" fill="#231815" text-anchor="start" textLength="32.2" lengthAdjust="spacingAndGlyphs" stroke="#231815" stroke-width="0.2">ES1115</text>
<line x1="107.50" y1="765.20" x2="110.90" y2="756.70" stroke="#6a6a6a" stroke-width="0.7" />
<text x="111.1" y="764.9" font-size="10.6" font-weight="normal" fill="#231815" text-anchor="start" textLength="32.2" lengthAdjust="spacingAndGlyphs" stroke="#231815" stroke-width="0.2">ES1215</text>
<line x1="143.60" y1="765.20" x2="147.00" y2="756.70" stroke="#6a6a6a" stroke-width="0.7" />
<text x="147.2" y="764.9" font-size="10.6" font-weight="normal" fill="#231815" text-anchor="start" textLength="32.2" lengthAdjust="spacingAndGlyphs" stroke="#231815" stroke-width="0.2">ES1315</text>
<line x1="179.70" y1="765.20" x2="183.10" y2="756.70" stroke="#6a6a6a" stroke-width="0.7" />
<text x="183.3" y="764.9" font-size="10.6" font-weight="normal" fill="#231815" text-anchor="start" textLength="32.2" lengthAdjust="spacingAndGlyphs" stroke="#231815" stroke-width="0.2">ES1515</text>
<text x="262.2" y="765.6" font-size="11.2" font-weight="normal" fill="#231815" text-anchor="middle" textLength="52.3" lengthAdjust="spacingAndGlyphs" stroke="#231815" stroke-width="0.15">1490~1505</text>
<text x="350.6" y="620.6" font-size="28.5" font-weight="bold" fill="#231815" text-anchor="start" textLength="17.6" lengthAdjust="spacingAndGlyphs" >X</text>
<text x="384.7" y="608.9" font-size="16.8" font-weight="normal" fill="#231815" text-anchor="start" textLength="53.3" lengthAdjust="spacing" >30mm</text>
<text x="325.0" y="650.4" font-size="16.8" font-weight="normal" fill="#231815" text-anchor="start" textLength="51.0" lengthAdjust="spacing" >16mm</text>
<line x1="381.70" y1="610.00" x2="381.70" y2="656.00" stroke="#231815" stroke-width="1.0" />
<line x1="438.00" y1="608.60" x2="438.00" y2="656.00" stroke="#231815" stroke-width="1.0" />
<line x1="412.40" y1="638.70" x2="412.40" y2="660.50" stroke="#231815" stroke-width="1.0" />
<line x1="381.70" y1="616.70" x2="438.00" y2="616.70" stroke="#231815" stroke-width="1.0" />
<polygon points="381.70,616.70 391.70,612.50 391.70,620.90" fill="#231815" stroke="none" stroke-width="1.0" stroke-linejoin="round" />
<polygon points="438.00,616.70 428.00,620.90 428.00,612.50" fill="#231815" stroke="none" stroke-width="1.0" stroke-linejoin="round" />
<line x1="381.70" y1="644.20" x2="412.40" y2="644.20" stroke="#231815" stroke-width="1.0" />
<polygon points="381.70,644.20 391.70,640.00 391.70,648.40" fill="#231815" stroke="none" stroke-width="1.0" stroke-linejoin="round" />
<polygon points="412.40,644.20 402.40,648.40 402.40,640.00" fill="#231815" stroke="none" stroke-width="1.0" stroke-linejoin="round" />
<path d="M438,655.3 L387.5,655.3 Q381.7,655.3 381.7,661 L381.7,679.8 Q381.7,685.4 387.5,685.4 L438,685.4 L438,681.0 L410.5,681.0 Q409.4,681 409.4,680 L409.4,660.8 Q409.4,659.8 410.5,659.8 L438,659.8 Z" fill="#fff" stroke="#231815" stroke-width="1.3" stroke-linejoin="round"/>
<circle cx="395.80" cy="670.40" r="11.20" fill="none" stroke="#231815" stroke-width="1.2"/>
<rect x="412.4" y="662.4" width="134" height="15.7" fill="#c3ebf8"/>
<line x1="412.40" y1="662.40" x2="546.40" y2="662.40" stroke="#4a3f3c" stroke-width="1.2" />
<line x1="412.40" y1="678.10" x2="546.40" y2="678.10" stroke="#4a3f3c" stroke-width="1.2" />
<line x1="412.40" y1="662.40" x2="412.40" y2="678.10" stroke="#4a3f3c" stroke-width="1.2" />
<text x="570.0" y="629.2" font-size="26" font-weight="bold" fill="#231815" text-anchor="start" textLength="17.6" lengthAdjust="spacingAndGlyphs" >V</text>
<text x="665.8" y="632.3" font-size="18" font-weight="bold" fill="#231815" text-anchor="start" textLength="53.4" lengthAdjust="spacingAndGlyphs" >35mm</text>
<text x="607.8" y="721.0" font-size="19.5" font-weight="bold" fill="#231815" text-anchor="start" textLength="71.4" lengthAdjust="spacingAndGlyphs" >0-15mm</text>
<text x="0" y="0" font-size="18.5" font-weight="bold" fill="#231815" text-anchor="middle" textLength="36.2" lengthAdjust="spacingAndGlyphs" transform="translate(794.4,633.0) rotate(-90)">16.3</text>
<clipPath id="hc3"><rect x="734.3" y="605" width="36" height="126.5"/></clipPath>
<g clip-path="url(#hc3)">
<line x1="734.30" y1="616.90" x2="768.90" y2="651.50" stroke="#22313c" stroke-width="1.0" />
<line x1="734.30" y1="645.20" x2="768.90" y2="679.80" stroke="#22313c" stroke-width="1.0" />
<line x1="734.30" y1="673.50" x2="768.90" y2="708.10" stroke="#22313c" stroke-width="1.0" />
<line x1="734.30" y1="701.80" x2="768.90" y2="736.40" stroke="#22313c" stroke-width="1.0" />
</g>
<line x1="734.30" y1="612.60" x2="734.30" y2="735.00" stroke="#22313c" stroke-width="1.1" />
<rect x="568.2" y="662.7" width="117" height="15.6" fill="#c3ebf8"/>
<line x1="568.20" y1="662.70" x2="685.20" y2="662.70" stroke="#3b4a55" stroke-width="1.1" />
<line x1="568.20" y1="678.30" x2="685.20" y2="678.30" stroke="#3b4a55" stroke-width="1.1" />
<line x1="685.20" y1="662.70" x2="685.20" y2="678.30" stroke="#3b4a55" stroke-width="1.1" />
<text x="0" y="0" font-size="18" font-weight="bold" fill="#231815" text-anchor="middle" textLength="9.5" lengthAdjust="spacingAndGlyphs" transform="translate(594.3,670.5) rotate(-90)">8</text>
<line x1="582.00" y1="646.90" x2="582.00" y2="662.70" stroke="#555" stroke-width="1.1" />
<polygon points="582.00,662.70 577.60,653.70 586.40,653.70" fill="#231815" stroke="none" stroke-width="1.0" stroke-linejoin="round" />
<line x1="582.00" y1="693.80" x2="582.00" y2="678.30" stroke="#555" stroke-width="1.1" />
<polygon points="582.00,678.30 586.40,687.30 577.60,687.30" fill="#231815" stroke="none" stroke-width="1.0" stroke-linejoin="round" />
<path d="M650.2,652.8 L797.9,652.8" stroke="#4f4440" stroke-width="1.2"/>
<path d="M650.2,692.1 L797.9,692.1" stroke="#4f4440" stroke-width="1.2"/>
<path d="M650.8,653.4 Q650,654.6 650,656.1 L646.6,655.9 Q645.7,655.9 645.7,656.9 L645.7,663.2 Q645.7,664 646.6,664 L651.4,664 L651.4,662.6 L656,662.6 L656,664 L678.4,664 Q679.4,663.8 679.2,662.9 L668.9,657.0 L685.3,657.0 L685.3,659.4 L687.4,659.4 L687.4,656.4" fill="none" stroke="#2f3a42" stroke-width="1.1" stroke-linejoin="round"/>
<line x1="651.00" y1="657.20" x2="668.90" y2="657.20" stroke="#2f3a42" stroke-width="1.3" />
<path d="M685.2,678.2 L685.2,683.0 L687.6,683.0 L687.6,688.4 M656.3,682.6 L651.5,682.6 Q650.5,682.6 650.5,683.6 L650.5,690.6 Q650.5,692 652,692" fill="none" stroke="#2f3a42" stroke-width="1.1" stroke-linejoin="round"/>
<path d="M656.3,682.6 L656.3,684.1 L653.9,684.7 L653.9,687.8 L684,687.8 L684,684.1" fill="none" stroke="#2f3a42" stroke-width="1.1" stroke-linejoin="round"/>
<line x1="654.50" y1="687.40" x2="684.00" y2="687.40" stroke="#2f3a42" stroke-width="1.6" />
<path d="M658,684.1 L662.9,678.7 L664.1,684.1 L667.7,678.7 L668.9,684.1 L672.5,678.7 L673.7,684.1 L677.3,678.7 L678.6,684.1 L681.6,678.7 L682.6,684.1" fill="none" stroke="#2f3a42" stroke-width="1.0" stroke-linejoin="round"/>
<path d="M686.7,656.4 L699.2,656.4 L699.6,659.5 L701.8,659.5 L702.2,656.4 L716.1,656.4 Q718.1,656.4 718.1,658.4 L718.1,686.5 Q718.1,688.5 716.1,688.5 L702.2,688.5 L702.2,683.5 Q702.2,682.7 700.7,682.7 Q699.2,682.7 699.2,683.5 L699.2,688.5 L687.5,688.5 L687.5,683.2" fill="none" stroke="#2f3a42" stroke-width="1.2" stroke-linejoin="round"/>
<rect x="720.4" y="656.4" width="9.8" height="32.1" rx="2" fill="none" stroke="#2f3a42" stroke-width="1.2"/>
<rect x="732.6" y="656.8" width="2" height="31" rx="1" fill="none" stroke="#2f3a42" stroke-width="1.0"/>
<line x1="685.30" y1="662.00" x2="685.30" y2="727.80" stroke="#5a4a46" stroke-width="1.0" />
<line x1="718.00" y1="652.00" x2="718.00" y2="727.80" stroke="#5a4a46" stroke-width="1.0" />
<line x1="685.30" y1="716.90" x2="718.00" y2="716.90" stroke="#231815" stroke-width="1.0" />
<polygon points="685.30,716.90 695.30,712.70 695.30,721.10" fill="#231815" stroke="none" stroke-width="1.0" stroke-linejoin="round" />
<polygon points="718.00,716.90 708.00,721.10 708.00,712.70" fill="#231815" stroke="none" stroke-width="1.0" stroke-linejoin="round" />
<line x1="650.20" y1="635.40" x2="650.20" y2="653.20" stroke="#231815" stroke-width="1.0" />
<line x1="650.20" y1="639.50" x2="734.20" y2="639.50" stroke="#231815" stroke-width="1.0" />
<polygon points="650.20,639.50 660.20,635.30 660.20,643.70" fill="#231815" stroke="none" stroke-width="1.0" stroke-linejoin="round" />
<polygon points="734.20,639.50 724.20,643.70 724.20,635.30" fill="#231815" stroke="none" stroke-width="1.0" stroke-linejoin="round" />
<line x1="787.80" y1="652.80" x2="787.80" y2="692.00" stroke="#231815" stroke-width="1.0" />
<polygon points="787.80,652.80 792.40,663.80 783.20,663.80" fill="#231815" stroke="none" stroke-width="1.0" stroke-linejoin="round" />
<polygon points="787.80,692.00 783.20,681.00 792.40,681.00" fill="#231815" stroke="none" stroke-width="1.0" stroke-linejoin="round" />
</svg>
</body></html>
